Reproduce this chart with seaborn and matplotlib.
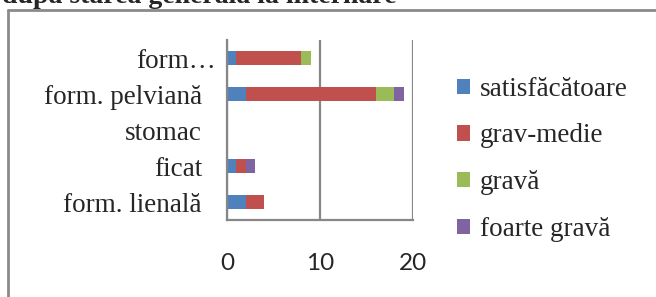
import numpy as np
import pandas as pd
import matplotlib.pyplot as plt
from matplotlib.lines import Line2D
from matplotlib.transforms import ScaledTranslation
import seaborn as sns

# Data (top to bottom)
categories = ['form…', 'form. pelviană', 'stomac', 'ficat', 'form. lienală']
series = ['satisfăcătoare', 'grav-medie', 'gravă', 'foarte gravă']
satisfacatoare = [1, 2, 0, 1, 2]
grav_medie = [7, 14, 0, 1, 2]
grava = [1, 2, 0, 0, 0]
foarte_grava = [0, 1, 0, 1, 0]
colors = ['#4F81BD', '#C0504D', '#9BBB59', '#8064A2']
x_ticks = [0, 10, 20]

df = pd.DataFrame({'category': categories,
                   'satisfăcătoare': satisfacatoare,
                   'grav-medie': grav_medie,
                   'gravă': grava,
                   'foarte gravă': foarte_grava})
# cumulative sums for stacking
cum = df[series].cumsum(axis=1)
cum['category'] = df['category']

sns.set_style('white')
plt.rcParams['font.family'] = ['Liberation Serif', 'DejaVu Serif']

fig = plt.figure(figsize=(6.56, 2.97), dpi=100)
ax = fig.add_axes([227 / 656, 1 - 220 / 297, (413 - 227) / 656, 180 / 297])

# draw the tallest stack first, smaller ones on top
for name, color in reversed(list(zip(series, colors))):
    sns.barplot(data=cum, x=name, y='category', order=categories, color=color,
                width=0.4, label=name, ax=ax, saturation=1, linewidth=0)

grey = '#878787'
ax.set_xlim(0, 20)
ax.set_ylim(len(categories) - 0.5, -0.5)
ax.set_xlabel('')
ax.set_ylabel('')
ax.set_xticks(x_ticks)
ax.set_xticklabels([str(t) for t in x_ticks], family=['Lato', 'DejaVu Sans'],
                   fontsize=17.5)
ax.tick_params(axis='x', length=6, width=1.6, color=grey, pad=18, direction='out')
ax.set_yticks(range(len(categories)))
ax.set_yticklabels(categories, fontsize=19.5)
ax.set_yticks(np.arange(-0.5, len(categories), 1), minor=True)
ax.tick_params(axis='y', which='major', length=0, pad=18)
ax.tick_params(axis='y', which='minor', length=6, width=1.6, color=grey, direction='out')
ax.grid(axis='x', color=grey, linewidth=1.6)
ax.set_axisbelow(True)
for s in ['top', 'right']:
    ax.spines[s].set_visible(False)
for s in ['left', 'bottom']:
    ax.spines[s].set_color(grey)
    ax.spines[s].set_linewidth(1.6)

# the truncated label sits a bit further right, as in Excel
lab = ax.get_yticklabels()[0]
lab.set_transform(lab.get_transform() + ScaledTranslation(0.14, 0, fig.dpi_scale_trans))

handles, labels = ax.get_legend_handles_labels()
ax.legend(handles[::-1], labels[::-1], loc='upper left',
          bbox_to_anchor=(446 / 656, 1 - 66 / 297), bbox_transform=fig.transFigure,
          frameon=False, fontsize=19.5, handlelength=0.5, handleheight=0.5,
          handletextpad=0.35, labelspacing=0.8, borderaxespad=0)

# outer chart border (only left and top visible in the crop)
fig.add_artist(Line2D([8 / 656, 8 / 656], [0, 1 - 10 / 297], color='#8a8a8a', lw=2))
fig.add_artist(Line2D([8 / 656, 1], [1 - 10 / 297, 1 - 10 / 297], color='#8a8a8a', lw=2))

# title, cut off at the top of the crop
fig.text(2 / 656, 1 - 3 / 297, 'după starea generală la internare', fontsize=20,
         fontweight='bold', va='baseline', ha='left')

plt.savefig('out.png', dpi=100)
